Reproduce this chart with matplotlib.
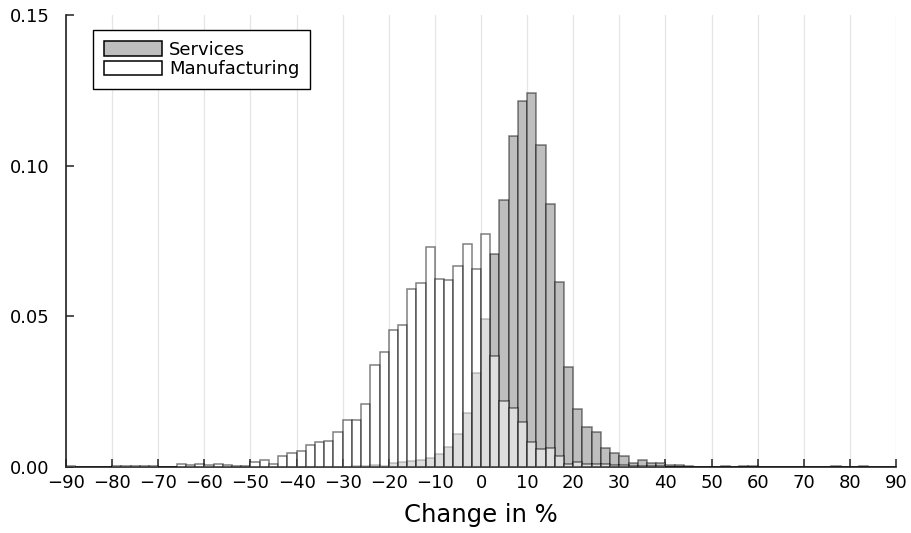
import matplotlib.pyplot as plt
import numpy as np

# bin left edges, width 2, from -90 to 88
edges = np.arange(-90, 90, 2)

manufacturing = [
    0.0004, 0.0, 0.0, 0.0, 0.0001, 0.0003, 0.0002, 0.0003, 0.0002, 0.0003,   # -90 .. -72
    0.0001, 0.0001, 0.0010, 0.0007, 0.0010, 0.0006, 0.0010, 0.0007, 0.0004, 0.0004,  # -70 .. -52
    0.0015, 0.0022, 0.0010, 0.0035, 0.0048, 0.0052, 0.0073, 0.0083, 0.0085, 0.0115,  # -50 .. -32
    0.0155, 0.0155, 0.0210, 0.0337, 0.0382, 0.0455, 0.0472, 0.0590, 0.0610, 0.0729,  # -30 .. -12
    0.0625, 0.0620, 0.0667, 0.0740, 0.0658, 0.0774, 0.0368, 0.0219, 0.0196, 0.0149,  # -10 .. 8
    0.0083, 0.0061, 0.0064, 0.0037, 0.0010, 0.0015, 0.0011, 0.0010, 0.0010, 0.0008,  # 10 .. 28
    0.0007, 0.0005, 0.0004, 0.0003, 0.0002, 0.0001, 0.0, 0.0, 0.0, 0.0,             # 30 .. 48
    0.0, 0.0, 0.0, 0.0, 0.0, 0.0, 0.0, 0.0, 0.0, 0.0,                                # 50 .. 68
    0.0, 0.0, 0.0, 0.0, 0.0, 0.0, 0.0, 0.0, 0.0, 0.0,                                # 70 .. 88
]

services = [
    0.0, 0.0, 0.0, 0.0, 0.0, 0.0001, 0.0, 0.0, 0.0, 0.0,                             # -90 .. -72
    0.0, 0.0, 0.0, 0.0, 0.0, 0.0, 0.0, 0.0, 0.0, 0.0,                                # -70 .. -52
    0.0, 0.0, 0.0, 0.0, 0.0, 0.0, 0.0, 0.0, 0.0, 0.0,                                # -50 .. -32
    0.0001, 0.0002, 0.0003, 0.0006, 0.0003, 0.0014, 0.0017, 0.0020, 0.0022, 0.0031,  # -30 .. -12
    0.0044, 0.0067, 0.0108, 0.0180, 0.0313, 0.0492, 0.0707, 0.0885, 0.1100, 0.1213,  # -10 .. 8
    0.1242, 0.1068, 0.0872, 0.0614, 0.0333, 0.0193, 0.0134, 0.0115, 0.0062, 0.0048,  # 10 .. 28
    0.0038, 0.0012, 0.0024, 0.0013, 0.0013, 0.0007, 0.0007, 0.0003, 0.0001, 0.0001,  # 30 .. 48
    0.0001, 0.0002, 0.0001, 0.0002, 0.0002, 0.0001, 0.0, 0.0, 0.0, 0.0,              # 50 .. 68
    0.0, 0.0, 0.0, 0.0002, 0.0, 0.0, 0.0002, 0.0, 0.0, 0.0,                          # 70 .. 88
]

xticks = np.arange(-90, 91, 10)
yticks = [0.0, 0.05, 0.10, 0.15]

fig = plt.figure(figsize=(9.11, 5.33), dpi=100)
ax = fig.add_axes([0.0725, 0.1238, 0.911, 0.8481])

edge = (0, 0, 0, 0.5)
ax.bar(edges, services, width=2, align='edge', color='#BEBEBE', edgecolor=edge,
       linewidth=1.1, label='Services', zorder=2)
ax.bar(edges, manufacturing, width=2, align='edge', color=(1, 1, 1, 0.5), edgecolor=edge,
       linewidth=1.1, label='Manufacturing', zorder=3)

ax.set_xlim(-90, 90)
ax.set_ylim(0, 0.15)
ax.set_xticks(xticks)
ax.set_yticks(yticks)
ax.set_yticklabels([f'{v:.2f}' for v in yticks])
ax.grid(axis='x', color='#e6e6e6', linewidth=0.9, zorder=0)
ax.set_axisbelow(True)

for s in ['top', 'right']:
    ax.spines[s].set_visible(False)
for s in ['left', 'bottom']:
    ax.spines[s].set_color('#222222')
    ax.spines[s].set_linewidth(1.2)

ax.tick_params(direction='in', length=6, width=1.1, labelsize=13, color='#222222')
ax.tick_params(axis='y', pad=12)
ax.tick_params(axis='x', pad=5)
ax.set_xlabel('Change in %', fontsize=17.5, labelpad=8)

leg = ax.legend(loc='upper left', bbox_to_anchor=(0.0325, 0.967), borderaxespad=0,
                fontsize=13, frameon=True, fancybox=False, edgecolor='black', framealpha=1,
                handlelength=3.2, handleheight=0.85, labelspacing=0.08, borderpad=0.6,
                handletextpad=0.4)
leg.get_frame().set_linewidth(1.0)
for h in leg.legend_handles:
    h.set_edgecolor('black')

fig.savefig('out.png', dpi=100)
